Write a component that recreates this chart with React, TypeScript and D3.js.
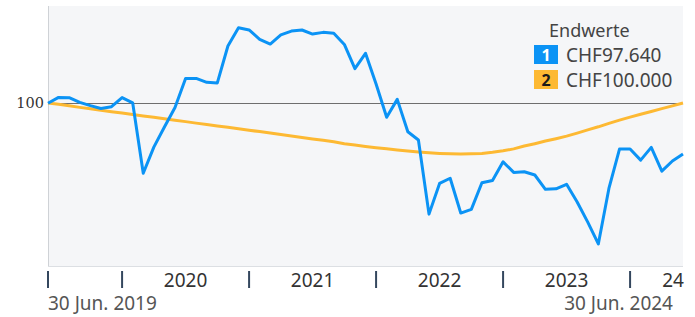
import * as d3 from 'd3';

// month-end keys, Jun 2019 .. Jun 2024
const months = d3
  .utcMonth.range(new Date(Date.UTC(2019, 5, 1)), new Date(Date.UTC(2024, 6, 1)))
  .map(d => d3.utcFormat('%Y-%m')(d));

const fundValues = [
  99.99, 100.26, 100.25, 100.03, 99.88, 99.75, 99.83, 100.25, 100.01, 96.75,
  97.96, 98.89, 99.79, 101.14, 101.14, 100.96, 100.93, 102.64, 103.48, 103.38,
  102.95, 102.73, 103.15, 103.33, 103.38, 103.19, 103.27, 103.23, 102.71, 101.59,
  102.3, 100.88, 99.34, 100.17, 98.67, 98.29, 94.86, 96.28, 96.52, 94.91,
  95.08, 96.31, 96.42, 97.28, 96.79, 96.82, 96.67, 96.01, 96.03, 96.24,
  95.42, 94.49, 93.48, 96.05, 97.87, 97.87, 97.36, 97.95, 96.85, 97.32,
  97.64,
];

const benchValues = [
  100.0, 99.94, 99.87, 99.8, 99.74, 99.67, 99.6, 99.54, 99.47, 99.4,
  99.34, 99.27, 99.2, 99.14, 99.07, 99.01, 98.94, 98.88, 98.81, 98.74,
  98.68, 98.61, 98.54, 98.48, 98.41, 98.34, 98.28, 98.21, 98.12, 98.06,
  97.99, 97.93, 97.88, 97.83, 97.78, 97.73, 97.7, 97.67, 97.65, 97.64,
  97.65, 97.67, 97.72, 97.79, 97.88, 98.01, 98.12, 98.24, 98.35, 98.47,
  98.61, 98.76, 98.9, 99.06, 99.21, 99.35, 99.48, 99.61, 99.74, 99.87,
  100.0,
];

const tickMonths = ['2019-06', '2020-01', '2021-01', '2022-01', '2023-01', '2024-01'];
const yearLabels = [
  { month: '2020-07', text: '2020' },
  { month: '2021-07', text: '2021' },
  { month: '2022-07', text: '2022' },
  { month: '2023-07', text: '2023' },
];
const legendTitle = 'Endwerte';
const legendItems = ['CHF97.640', 'CHF100.000'];
const startLabel = '30 Jun. 2019';
const endLabel = '30 Jun. 2024';

const BLUE = '#0b93f5';
const ORANGE = '#fdb933';

const App = () => {
  const width = 695;
  const height = 317;
  const plot = { left: 48, right: 683, top: 6, bottom: 266 };

  const x = d3.scalePoint<string>().domain(months).range([plot.left, plot.right]);
  const y = d3.scaleLinear().domain([92.46, 104.49]).range([plot.bottom, plot.top]);

  const line = d3
    .line<number>()
    .x((_, i) => x(months[i]) ?? 0)
    .y(d => y(d));

  const sans = '"Noto Sans", "Open Sans", sans-serif';

  return (
    <svg
      width={width}
      height={height}
      style={{ position: 'absolute', left: 0, top: 0 }}
    >
      <rect
        x={plot.left}
        y={plot.top}
        width={plot.right - plot.left}
        height={plot.bottom - plot.top}
        fill="#f5f6f8"
      />
      <line x1={plot.left + 0.5} x2={plot.left + 0.5} y1={plot.top} y2={plot.bottom} stroke="#cfd2d6" />
      <line x1={plot.left} x2={plot.right} y1={plot.bottom + 0.5} y2={plot.bottom + 0.5} stroke="#dcdfe3" />

      {/* reference line at 100 */}
      <line x1={plot.left} x2={plot.right} y1={Math.round(y(100)) + 0.5} y2={Math.round(y(100)) + 0.5} stroke="#6e6e6e" />
      <text
        x={44}
        y={y(100) + 5}
        textAnchor="end"
        fontFamily='"DejaVu Serif", serif'
        fontSize={14.5}
        fill="#333"
      >
        100
      </text>

      <path d={line(benchValues) ?? ''} fill="none" stroke={ORANGE} strokeWidth={3} strokeLinejoin="round" />
      <path d={line(fundValues) ?? ''} fill="none" stroke={BLUE} strokeWidth={3} strokeLinejoin="round" />

      {/* x axis */}
      {tickMonths.map(m => (
        <line key={m} x1={x(m)} x2={x(m)} y1={271} y2={288} stroke="#34475e" strokeWidth={2} />
      ))}
      {yearLabels.map(l => (
        <text key={l.text} x={x(l.month)} y={287} textAnchor="middle" fontFamily={sans} fontSize={19} fill="#333">
          {l.text}
        </text>
      ))}
      <text x={plot.right + 1} y={287} textAnchor="end" fontFamily={sans} fontSize={19} fill="#333">
        24
      </text>
      <text x={plot.left} y={310} fontFamily={sans} fontSize={19} fill="#555">
        {startLabel}
      </text>
      <text x={673} y={310} textAnchor="end" fontFamily={sans} fontSize={19} fill="#555">
        {endLabel}
      </text>

      {/* legend */}
      <text x={549} y={37} fontFamily={sans} fontSize={18} fill="#444">
        {legendTitle}
      </text>
      {legendItems.map((t, i) => (
        <g key={t} transform={`translate(534, ${45 + i * 25})`}>
          <rect width={24} height={19} fill={i === 0 ? BLUE : ORANGE} />
          <text x={12} y={16} textAnchor="middle" fontFamily={sans} fontWeight="bold" fontSize={16} fill={i === 0 ? '#fff' : '#1a1a1a'}>
            {i + 1}
          </text>
          <text x={32} y={17} fontFamily={sans} fontSize={19} fill="#444">
            {t}
          </text>
        </g>
      ))}
    </svg>
  );
};

export default App;
